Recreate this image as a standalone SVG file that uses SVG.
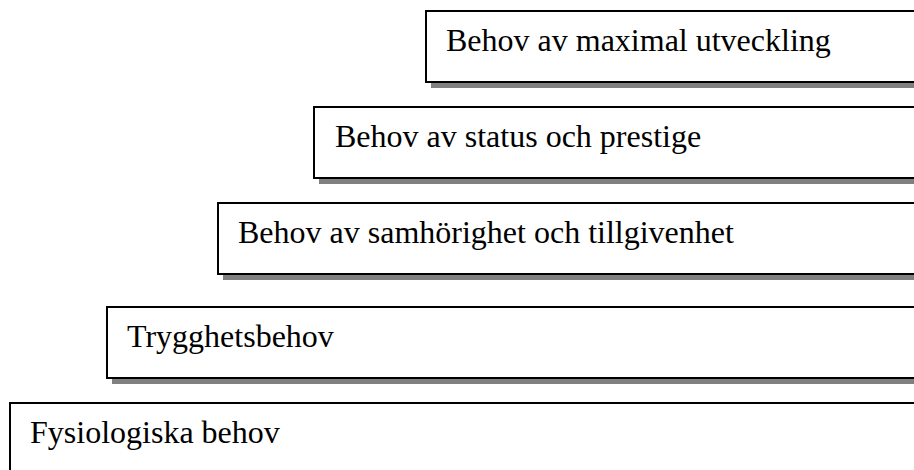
<svg xmlns="http://www.w3.org/2000/svg" width="914" height="470" viewBox="0 0 914 470">
<style>
.shadow{fill:#808080;stroke:none}
.box{fill:#ffffff;stroke:#000000;stroke-width:2}
.lbl{font-family:"Liberation Serif","Times New Roman",serif;font-size:32px;fill:#000000}
</style>
<rect width="914" height="470" fill="#ffffff"/>
<g id="node-utveckling">
<rect class="shadow" x="431" y="16" width="500" height="72"/>
<rect class="box" x="426" y="11" width="500" height="71"/>
<text class="lbl" x="446" y="51">Behov av maximal utveckling</text>
</g>
<g id="node-status">
<rect class="shadow" x="319" y="112" width="620" height="72"/>
<rect class="box" x="314" y="107" width="620" height="71"/>
<text class="lbl" x="335" y="147">Behov av status och prestige</text>
</g>
<g id="node-samhorighet">
<rect class="shadow" x="223" y="208" width="720" height="72"/>
<rect class="box" x="218" y="203" width="720" height="71"/>
<text class="lbl" x="238" y="243">Behov av samhörighet och tillgivenhet</text>
</g>
<g id="node-trygghet">
<rect class="shadow" x="112" y="312" width="820" height="72"/>
<rect class="box" x="107" y="307" width="820" height="71"/>
<text class="lbl" x="127" y="347">Trygghetsbehov</text>
</g>
<g id="node-fysiologiska">
<rect class="shadow" x="16" y="409" width="920" height="80"/>
<rect class="box" x="10" y="403" width="920" height="80"/>
<text class="lbl" x="30" y="443">Fysiologiska behov</text>
</g>
<g id="connectors"></g>
</svg>
